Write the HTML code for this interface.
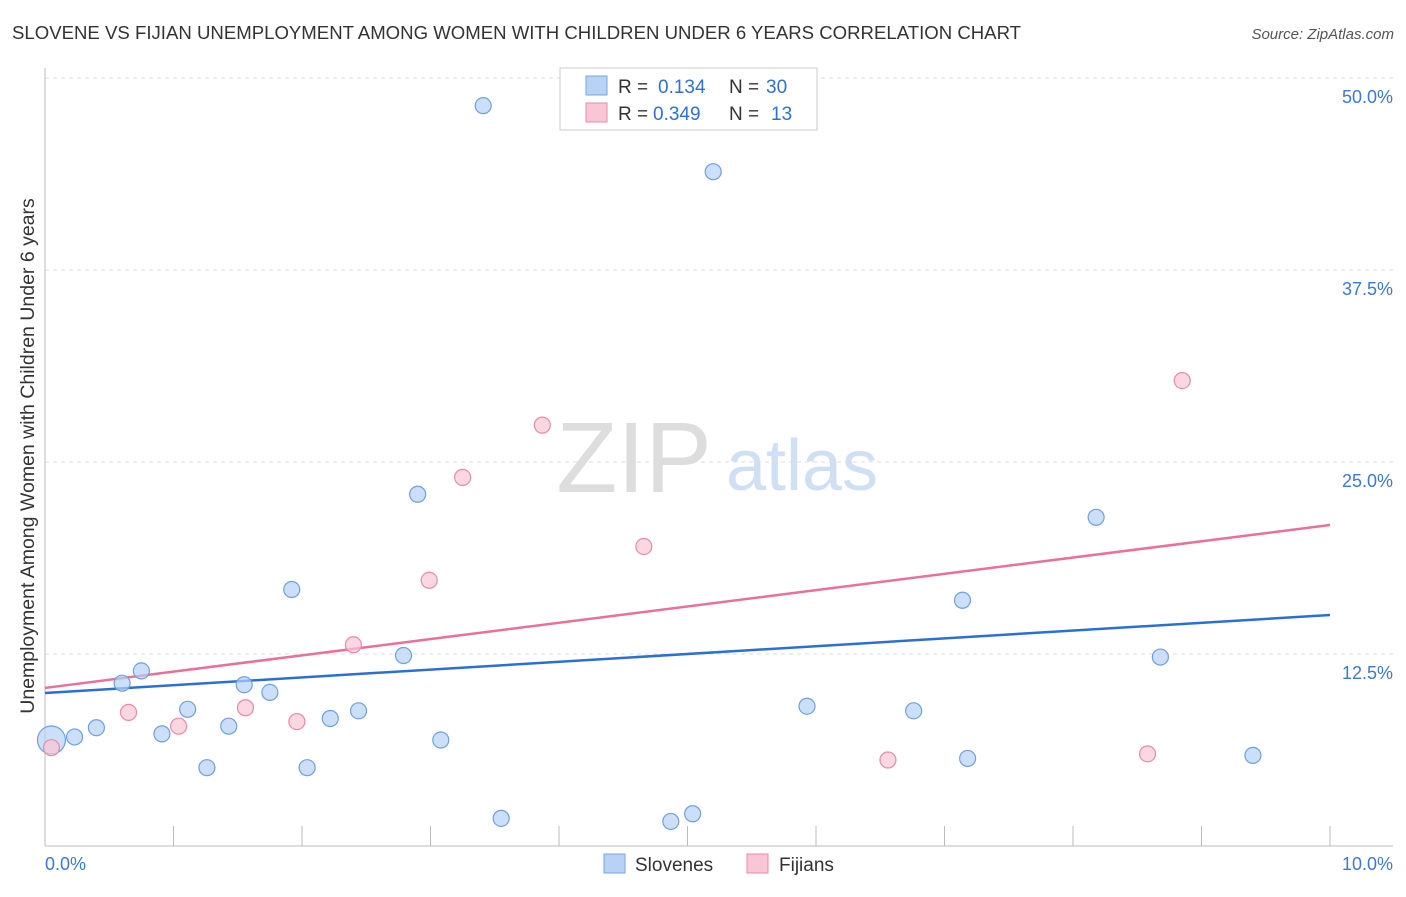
<!DOCTYPE html>
<html><head><meta charset="utf-8"><style>
body{margin:0;background:#fff;font-family:"Liberation Sans",sans-serif;}
svg text{font-family:"Liberation Sans",sans-serif;}
</style></head><body>
<svg id="chart" width="1406" height="892" xmlns="http://www.w3.org/2000/svg">
<text x="12" y="39" font-size="18.6" fill="#333">SLOVENE VS FIJIAN UNEMPLOYMENT AMONG WOMEN WITH CHILDREN UNDER 6 YEARS CORRELATION CHART</text>
<text x="1394" y="39" font-size="15" fill="#555" font-style="italic" text-anchor="end">Source: ZipAtlas.com</text>
<text x="34" y="456" font-size="19.5" fill="#333" text-anchor="middle" transform="rotate(-90 34 456)">Unemployment Among Women with Children Under 6 years</text>
<g><text x="634" y="492" font-size="100" fill="#ddd" font-family="Liberation Serif" text-anchor="middle">ZIP</text><text x="802" y="490" font-size="72" fill="#cfe0f5" text-anchor="middle">atlas</text></g>
<g id="grid"></g><g id="axes"></g><g id="lines"></g><g id="pts"></g>
<g>
<rect x="560" y="68" width="257" height="62" fill="#fff" stroke="#ccc"/>
<rect x="586" y="76" width="21" height="19" fill="#b7d2f5" stroke="#7aa7e0"/>
<rect x="586" y="103" width="21" height="19" fill="#f9c6d6" stroke="#e98aa8"/>
<text x="618" y="93" font-size="19" fill="#333">R =</text><text x="658" y="93" font-size="19" fill="#2f6fd6">0.134</text>
<text x="729" y="93" font-size="19" fill="#333">N =</text><text x="766" y="93" font-size="19" fill="#2f6fd6">30</text>
<text x="618" y="120" font-size="19" fill="#333">R =</text><text x="653" y="120" font-size="19" fill="#2f6fd6">0.349</text>
<text x="729" y="120" font-size="19" fill="#333">N =</text><text x="771" y="120" font-size="19" fill="#2f6fd6">13</text>
</g>
<g>
<rect x="604" y="854" width="21" height="19" fill="#b7d2f5" stroke="#7aa7e0"/>
<text x="635" y="871" font-size="19" fill="#333">Slovenes</text>
<rect x="747" y="854" width="21" height="19" fill="#f9c6d6" stroke="#e98aa8"/>
<text x="779" y="871" font-size="19" fill="#333">Fijians</text>
</g>
</svg>
<script>
const yTicks=[12.5,25,37.5,50];
const yTickLabels=["12.5%","25.0%","37.5%","50.0%"];
const xTickLabels=["0.0%","10.0%"];
const sloX=[0.05,0.23,0.40,0.60,0.75,0.91,1.11,1.26,1.43,1.55,1.75,1.92,2.04,2.22,2.44,2.79,2.90,3.08,3.41,3.55,4.87,5.04,5.20,5.93,6.76,7.14,7.18,8.18,8.68,9.40];
const sloY=[6.9,7.1,7.7,10.6,11.4,7.3,8.9,5.1,7.8,10.5,10.0,16.7,5.1,8.3,8.8,12.4,22.9,6.9,48.2,1.8,1.6,2.1,43.9,9.1,8.8,16.0,5.7,21.4,12.3,5.9];
const fijX=[0.05,0.65,1.04,1.56,1.96,2.40,2.99,3.25,3.87,4.66,6.56,8.58,8.85];
const fijY=[6.4,8.7,7.8,9.0,8.1,13.1,17.3,24.0,27.4,19.5,5.6,6.0,30.3];
const sloTrend=[9.96,15.04];
const fijTrend=[10.29,20.9];
const NS="http://www.w3.org/2000/svg";
const X=v=>45+v/10*1285, Y=v=>846-v/12.5*192;
function mk(p,t,a){const e=document.createElementNS(NS,t);for(const k in a)e.setAttribute(k,a[k]);p.appendChild(e);return e;}
const grid=document.getElementById('grid'),axes=document.getElementById('axes');
yTicks.forEach((t,i)=>{
 const l=mk(grid,'line',{x1:45,x2:1393,y1:Y(t),y2:Y(t),stroke:'#ddd','stroke-dasharray':'4,4'});
 
 
 const tx=mk(axes,'text',{x:1393,y:Y(t)+25,'font-size':18,fill:'#3b78d8','text-anchor':'end'});tx.textContent=yTickLabels[i];
 
 
});
mk(axes,'line',{x1:45,x2:45,y1:68,y2:846,stroke:'#bbb'});
const xa=mk(axes,'line',{x1:45,x2:1393,y1:846,y2:846,stroke:'#bbb'});


for(let i=1;i<=10;i++)mk(axes,'line',{x1:X(i),x2:X(i),y1:826,y2:846,stroke:'#bbb'});
[[0,'start',45],[10,'end',1393]].forEach((d,i)=>{const t=mk(axes,'text',{x:d[2],y:870,'font-size':18,fill:'#3b78d8','text-anchor':d[1]});t.textContent=xTickLabels[i];
 
 });
const lines=document.getElementById('lines');
const bl=mk(lines,'line',{x1:X(0),y1:Y(sloTrend[0]),x2:X(10),y2:Y(sloTrend[1]),stroke:'#2a6fd6','stroke-width':2.5});


const pl=mk(lines,'line',{x1:X(0),y1:Y(fijTrend[0]),x2:X(10),y2:Y(fijTrend[1]),stroke:'#e8709a','stroke-width':2.5});


const pts=document.getElementById('pts');
sloX.forEach((x,i)=>{const c=mk(pts,'circle',{cx:X(x),cy:Y(sloY[i]),r:i==0?14:8,fill:'rgba(183,210,245,0.7)',stroke:'#6f9fe0','stroke-width':1.2});
 
 });
fijX.forEach((x,i)=>{const c=mk(pts,'circle',{cx:X(x),cy:Y(fijY[i]),r:8,fill:'rgba(249,198,214,0.7)',stroke:'#e98aa8','stroke-width':1.2});
 
 });
</script>
</body></html>
